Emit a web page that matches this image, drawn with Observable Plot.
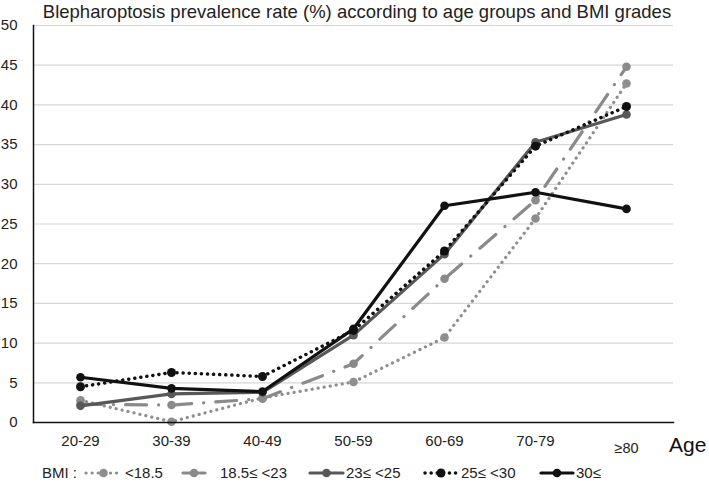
<!DOCTYPE html>
<html>
<head>
<meta charset="utf-8">
<script src="https://cdn.jsdelivr.net/npm/d3@7"></script>
<script src="https://cdn.jsdelivr.net/npm/@observablehq/plot@0.6"></script>
<style>
  html, body { margin: 0; padding: 0; background: #fff; }
  #wrap { position: relative; width: 709px; height: 491px; font-family: "Liberation Sans", Arial, sans-serif; color: #222; overflow: hidden; }
  #title { position: absolute; top: 1px; left: 0; width: 714px; text-align: center; font-size: 18.5px; line-height: 22px; color: #222; white-space: nowrap; }
  #chart { position: absolute; top: 0; left: 0; }
  #age { position: absolute; left: 669px; top: 432px; font-size: 21px; line-height: 26px; color: #111; }
  .leg { position: absolute; top: 463px; height: 20px; font-size: 15px; line-height: 20px; color: #222; white-space: nowrap; }
  .leg svg { position: absolute; top: 0; left: 0; }
</style>
</head>
<body>
<div id="wrap">
  <div id="chart"></div>
  <div id="title">Blepharoptosis prevalence rate (%) according to age groups and BMI grades</div>
  <div id="age">Age</div>
  <div id="legend"></div>
</div>
<script>
// ---- data ----
const ages = ["20-29", "30-39", "40-49", "50-59", "60-69", "70-79", "≥80"];
const seriesNames = ["<18.5", "18.5≤ <23", "23≤ <25", "25≤ <30", "30≤"];
const bmiUnder185 = [2.8, 0.1, 3.1, 5.1, 10.7, 25.7, 42.7];
const bmi185to23 = [2.3, 2.2, 3.0, 7.4, 18.1, 28.0, 44.8];
const bmi23to25 = [2.1, 3.6, 3.8, 11.0, 21.2, 35.3, 38.8];
const bmi25to30 = [4.5, 6.3, 5.8, 11.6, 21.6, 34.8, 39.8];
const bmiOver30 = [5.7, 4.3, 3.9, 11.8, 27.3, 29.0, 26.9];
const yTicks = [0, 5, 10, 15, 20, 25, 30, 35, 40, 45, 50];

// ---- styles ----
const styles = [
  {color: "#8e8e8e", width: 3.2, dash: "0.1,6", r: 4.3},
  {color: "#8a8a8a", width: 3.2, dash: "21,12,0.1,12", r: 4.3},
  {color: "#585858", width: 3.2, dash: null, r: 4.3},
  {color: "#111111", width: 3.5, dash: "0.1,6", r: 4.5},
  {color: "#111111", width: 3.2, dash: null, r: 4.3}
];
const allValues = [bmiUnder185, bmi185to23, bmi23to25, bmi25to30, bmiOver30];

const rows = [];
allValues.forEach((vals, s) => vals.forEach((v, i) => rows.push({series: seriesNames[s], age: ages[i], value: v})));

const marks = [
  Plot.gridY(yTicks, {stroke: "#d6d6d6", strokeOpacity: 1, strokeWidth: 1.2}),
  Plot.axisY({ticks: yTicks, tickSize: 0, tickPadding: 16, label: null, fontSize: 15, fill: "#222"}),
  Plot.axisX({ticks: ages.slice(0, 6), tickSize: 0, tickPadding: 13, label: null, fontSize: 15, fill: "#222"}),
  Plot.axisX({ticks: ages.slice(6), tickSize: 0, tickPadding: 20, label: null, fontSize: 14.5, fill: "#222"})
];
seriesNames.forEach((name, s) => {
  const data = rows.filter(d => d.series === name);
  const st = styles[s];
  marks.push(Plot.line(data, {x: "age", y: "value", stroke: st.color, strokeWidth: st.width,
    strokeDasharray: st.dash || undefined, strokeLinecap: "round", strokeLinejoin: "round"}));
  marks.push(Plot.dot(data, {x: "age", y: "value", r: st.r, fill: st.color, stroke: "none"}));
});
marks.push(Plot.frame({anchor: "left", stroke: "#111", strokeWidth: 1.5}));
marks.push(Plot.frame({anchor: "bottom", stroke: "#111", strokeWidth: 1.5}));

const chart = Plot.plot({
  width: 709,
  height: 455,
  marginTop: 25,
  marginBottom: 33,
  marginLeft: 33,
  marginRight: 36,
  x: {type: "point", domain: ages, padding: 0.5},
  y: {domain: [0, 50]},
  style: {fontFamily: "'Liberation Sans', Arial, sans-serif", fontSize: "15px", background: "white", color: "#222"},
  marks
});
document.getElementById("chart").appendChild(chart);

// ---- legend (HTML) ----
const legendLayout = [
  {left: 84, w: 39, gap: 2},
  {left: 181, w: 26, gap: 13},
  {left: 308, w: 37, gap: 1},
  {left: 423, w: 36, gap: 2},
  {left: 539, w: 36, gap: 1}
];
const legend = document.getElementById("legend");
const bmiLabel = document.createElement("div");
bmiLabel.className = "leg";
bmiLabel.style.left = "42px";
bmiLabel.textContent = "BMI :";
legend.appendChild(bmiLabel);
seriesNames.forEach((name, s) => {
  const lay = legendLayout[s];
  const st = styles[s];
  const item = document.createElement("div");
  item.className = "leg";
  item.style.left = lay.left + "px";
  item.style.width = (lay.w + lay.gap + 80) + "px";
  const sw = d3.create("svg").attr("width", lay.w).attr("height", 20);
  const dash = s === 1 ? null : st.dash;
  sw.append("line").attr("x1", 2).attr("x2", lay.w - 2).attr("y1", 10).attr("y2", 10)
    .attr("stroke", st.color).attr("stroke-width", st.width)
    .attr("stroke-linecap", "round")
    .attr("stroke-dasharray", dash);
  sw.append("circle").attr("cx", lay.w / 2).attr("cy", 10).attr("r", st.r).attr("fill", st.color);
  item.appendChild(sw.node());
  const t = document.createElement("span");
  t.style.position = "absolute";
  t.style.left = (lay.w + lay.gap) + "px";
  t.textContent = name;
  item.appendChild(t);
  legend.appendChild(item);
});
</script>
</body>
</html>
